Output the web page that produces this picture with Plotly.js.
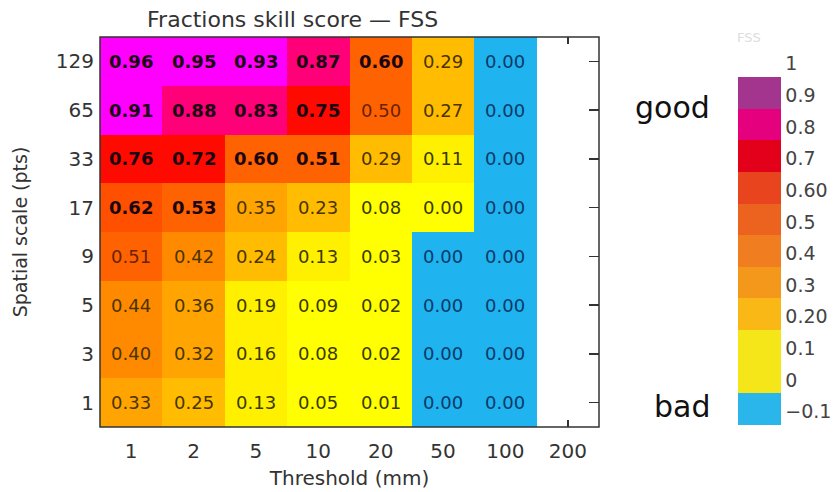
<!DOCTYPE html>
<html>
<head>
<meta charset="utf-8">
<script src="https://cdn.plot.ly/plotly-3.0.1.min.js"></script>
<style>html,body{margin:0;padding:0;background:#fff;}#chart{width:839px;height:492px;}</style>
</head>
<body>
<div id="chart"></div>
<script>
// ---- data ----
const thresholds = ["1", "2", "5", "10", "20", "50", "100", "200"];
const scales = ["1", "3", "5", "9", "17", "33", "65", "129"]; // bottom to top

// FSS per spatial scale (rows follow `scales`), columns follow `thresholds`; null = not computed
const fss1   = [0.33, 0.25, 0.13, 0.05, 0.01, 0.00, 0.00, null];
const fss3   = [0.40, 0.32, 0.16, 0.08, 0.02, 0.00, 0.00, null];
const fss5   = [0.44, 0.36, 0.19, 0.09, 0.02, 0.00, 0.00, null];
const fss9   = [0.51, 0.42, 0.24, 0.13, 0.03, 0.00, 0.00, null];
const fss17  = [0.62, 0.53, 0.35, 0.23, 0.08, 0.00, 0.00, null];
const fss33  = [0.76, 0.72, 0.60, 0.51, 0.29, 0.11, 0.00, null];
const fss65  = [0.91, 0.88, 0.83, 0.75, 0.50, 0.27, 0.00, null];
const fss129 = [0.96, 0.95, 0.93, 0.87, 0.60, 0.29, 0.00, null];

// useful-skill target per threshold (values above it are printed in bold)
const fssTarget = [0.56, 0.52, 0.51, 0.505, 0.501, 0.5, 0.5, 0.5];

// cells drawn in the "bad" class (no events observed)
const bad1   = [0, 0, 0, 0, 0, 1, 1, 0];
const bad3   = [0, 0, 0, 0, 0, 1, 1, 0];
const bad5   = [0, 0, 0, 0, 0, 1, 1, 0];
const bad9   = [0, 0, 0, 0, 0, 1, 1, 0];
const bad17  = [0, 0, 0, 0, 0, 0, 1, 0];
const bad33  = [0, 0, 0, 0, 0, 0, 1, 0];
const bad65  = [0, 0, 0, 0, 0, 0, 1, 0];
const bad129 = [0, 0, 0, 0, 0, 0, 1, 0];

const cbTickVals = [-0.1, 0, 0.1, 0.2, 0.3, 0.4, 0.5, 0.6, 0.7, 0.8, 0.9, 1];
const cbTickText = ["\u22120.1", "0", "0.1", "0.20", "0.3", "0.4", "0.5", "0.60", "0.7", "0.8", "0.9", "1"];

// ---- styles ----
const FONT = "DejaVu Sans";
const cellColors = ["#1fb3f0", "#ffff00", "#fff000", "#ffbc00", "#ffa400", "#ff8a00",
                    "#ff6200", "#ff5000", "#ff0a00", "#ff0078", "#ff00ff"];
const legendColors = ["#2ab5eb", "#f5e61a", "#f5e61a", "#f9b815", "#f4981c", "#f07d1f",
                      "#ec621f", "#e8451f", "#e2001a", "#e5007d", "#a3358f"];
function discrete(cols) {
  const n = cols.length, out = [];
  cols.forEach((c, i) => { out.push([i / n, c]); out.push([(i + 1) / n, c]); });
  return out;
}

const fss = [fss1, fss3, fss5, fss9, fss17, fss33, fss65, fss129];
const bad = [bad1, bad3, bad5, bad9, bad17, bad33, bad65, bad129];
const zColour = fss.map((row, r) => row.map((v, c) => v === null ? null : (bad[r][c] ? -0.05 : v)));

function textColour(v, isBad, strong) {
  if (isBad) return "#0a3a66";
  if (strong) return "#1a0512";
  if (v >= 0.45) return "#6a2200";
  if (v >= 0.2) return "#4a3400";
  return "#3a3a00";
}

const annotations = [];
fss.forEach((row, r) => row.forEach((v, c) => {
  if (v === null) return;
  const t = v.toFixed(2);
  const strong = v > fssTarget[c];
  annotations.push({
    xref: "x", yref: "y", x: c, y: r,
    text: strong ? "<b>" + t + "</b>" : t, showarrow: false,
    font: {family: FONT, size: 18, color: textColour(v, bad[r][c], strong)}
  });
}));
annotations.push({xref: "paper", yref: "paper", x: 1.2266, y: 0.818, xanchor: "right", yanchor: "middle",
  text: "good", showarrow: false, font: {family: FONT, size: 30, color: "#111"}});
annotations.push({xref: "paper", yref: "paper", x: 1.2266, y: 0.0513, xanchor: "right", yanchor: "middle",
  text: "bad", showarrow: false, font: {family: FONT, size: 30, color: "#111"}});
annotations.push({xref: "paper", yref: "paper", x: 1.3002, y: 1.0, xanchor: "center", yanchor: "middle",
  text: "FSS", showarrow: false, font: {family: FONT, size: 13, color: "#dddddd"}});

const traces = [
  {
    type: "heatmap", x: thresholds, y: scales, z: zColour,
    zmin: -0.1, zmax: 1, colorscale: discrete(cellColors), showscale: false,
    hoverinfo: "skip", xgap: 0, ygap: 0
  },
  {
    type: "scatter", mode: "markers", x: [null], y: [null], showlegend: false, hoverinfo: "skip",
    marker: {
      color: [0.5], cmin: -0.1, cmax: 1, colorscale: discrete(legendColors), showscale: true,
      colorbar: {
        x: 1.2783, xanchor: "left", xref: "paper", xpad: 0,
        y: 0.4513, yanchor: "middle", yref: "paper", ypad: 0,
        len: 348, lenmode: "pixels", thickness: 43, thicknessmode: "pixels",
        outlinewidth: 0, ticks: "", tickmode: "array",
        tickvals: cbTickVals, ticktext: cbTickText,
        ticklabelposition: "outside top",
        tickfont: {family: FONT, size: 19, color: "#444"}
      }
    }
  }
];

const layout = {
  width: 839, height: 492,
  margin: {l: 100, r: 236, t: 37, b: 65, pad: 0},
  paper_bgcolor: "#fff", plot_bgcolor: "#fff",
  font: {family: FONT, color: "#333"},
  title: {
    text: "Fractions skill score \u2014 FSS",
    x: 0.386, xref: "paper", xanchor: "center",
    y: 0.961, yref: "container", yanchor: "middle",
    font: {family: FONT, size: 22, color: "#333"}
  },
  xaxis: {
    type: "category", range: [-0.5, 7.5], fixedrange: true,
    ticks: "inside", ticklen: 7, tickcolor: "#333", tickwidth: 1.5, mirror: "ticks",
    showline: false, showgrid: false, zeroline: false, layer: "below traces",
    ticklabelstandoff: 10,
    tickfont: {family: FONT, size: 20, color: "#333"},
    title: {text: "Threshold (mm)", standoff: 8, font: {family: FONT, size: 20, color: "#333"}}
  },
  yaxis: {
    type: "category", range: [-0.5, 7.5], fixedrange: true,
    ticks: "inside", ticklen: 10, tickcolor: "#333", tickwidth: 1.5, mirror: "ticks",
    showline: false, showgrid: false, zeroline: false, layer: "below traces",
    ticklabelstandoff: 5,
    tickfont: {family: FONT, size: 20, color: "#333"},
    title: {text: "Spatial scale (pts)", standoff: 23, font: {family: FONT, size: 19, color: "#333"}}
  },
  shapes: [{
    type: "rect", xref: "paper", yref: "paper", x0: 0, x1: 1, y0: 0, y1: 1,
    line: {color: "#333", width: 1.5}, layer: "above"
  }],
  annotations: annotations
};

Plotly.newPlot("chart", traces, layout, {staticPlot: true, displayModeBar: false});
</script>
</body>
</html>
